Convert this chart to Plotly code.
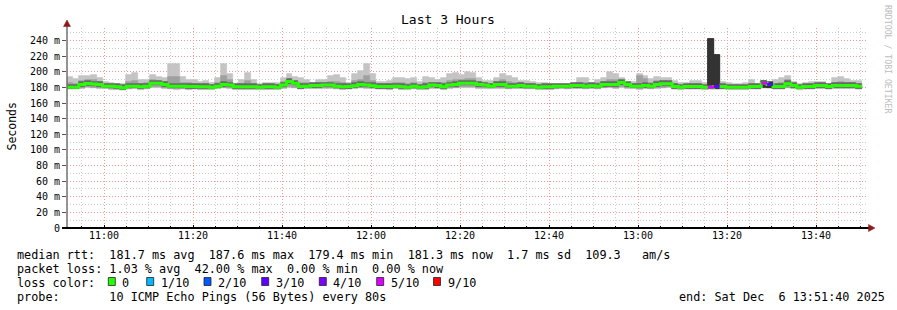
import plotly.graph_objects as go
from datetime import datetime, timedelta

# ---------------- data ----------------
START = datetime(2025, 12, 6, 10, 51, 40)
END = datetime(2025, 12, 6, 13, 51, 40)
STEP_S = 80

median_ms = [
    180.3, 180.3, 183.7, 185.0, 184.2, 183.7, 181.6, 181.6, 180.7, 179.4,
    181.6, 181.6, 180.7, 181.6, 185.4, 185.4, 183.7, 181.6, 181.6, 181.6,
    181.2, 181.2, 180.7, 180.7, 180.3, 181.6, 183.7, 182.9, 180.7, 180.7,
    180.7, 180.7, 180.3, 180.7, 180.7, 180.3, 182.9, 187.6, 185.4, 181.2,
    181.6, 182.4, 182.4, 182.9, 182.9, 181.6, 180.7, 181.2, 182.0, 183.7,
    182.9, 182.0, 181.2, 181.2, 181.2, 181.6, 180.7, 180.3, 181.6, 180.3,
    180.7, 182.9, 182.4, 180.7, 182.9, 183.7, 185.4, 185.4, 185.4, 183.7,
    182.9, 181.6, 183.7, 183.7, 181.6, 181.6, 182.4, 181.6, 181.6, 180.3,
    180.7, 180.7, 181.6, 181.6, 181.6, 182.4, 182.4, 181.6, 182.0, 181.6,
    183.7, 183.7, 183.7, 186.3, 183.7, 181.6, 181.6, 182.4, 181.6, 183.7,
    184.6, 184.6, 181.2, 180.3, 181.2, 181.2, 181.2, 180.3, 180.3, 181.2,
    181.2, 180.3, 180.3, 180.3, 180.3, 181.2, 181.2, 185.5, 183.8, 181.2,
    181.2, 184.6, 182.5, 180.3, 181.2, 181.2, 182.5, 182.5, 181.2, 182.5,
    182.5, 182.5, 182.5, 181.3,
]

smoke_hi = [
    193.1, 190.2, 194.4, 194.4, 195.7, 191.4, 187.2, 185.9, 183.7, 184.6,
    195.7, 197.8, 189.7, 189.7, 195.3, 193.1, 191.4, 210.2, 210.2, 193.1,
    189.7, 188.9, 187.2, 188.0, 185.9, 191.4, 209.3, 197.4, 183.7, 189.7,
    198.7, 189.7, 183.7, 185.9, 185.9, 185.9, 192.3, 197.4, 193.1, 192.3,
    188.9, 185.4, 189.7, 189.7, 194.0, 195.3, 191.4, 185.9, 197.4, 200.8,
    210.2, 196.5, 187.2, 187.2, 188.0, 191.4, 191.4, 190.2, 191.4, 187.2,
    193.1, 191.4, 189.7, 192.3, 196.5, 198.7, 195.7, 199.1, 198.7, 191.4,
    188.0, 188.0, 191.4, 196.5, 194.4, 191.4, 188.0, 188.0, 187.2, 185.9,
    185.9, 184.6, 183.7, 183.7, 183.7, 185.9, 191.4, 191.4, 185.9, 188.9,
    192.3, 199.9, 197.4, 191.4, 187.2, 187.2, 196.5, 194.4, 190.2, 193.1,
    192.3, 192.2, 188.8, 185.5, 185.5, 188.8, 188.8, 185.5, 242.2, 221.7,
    186.6, 185.5, 184.6, 184.6, 185.5, 189.6, 184.6, 186.6, 185.5, 189.6,
    192.2, 194.8, 186.6, 184.6, 185.5, 186.6, 186.6, 186.6, 184.6, 192.2,
    193.9, 190.9, 187.9, 188.8,
]

smoke_mid = [
    185, 184, 188, 189, 189, 187, 184, 183, 182, 182,
    187, 188, 184, 185, 189, 188, 187, 193, 193, 186,
    185, 184, 183, 184, 183, 186, 194, 189, 182, 184,
    188, 184, 182, 183, 183, 183, 187, 191, 188, 186,
    185, 184, 185, 186, 187, 187, 185, 183, 188, 190,
    194, 188, 184, 184, 184, 186, 185, 184, 186, 183,
    186, 186, 185, 185, 188, 190, 190, 191, 191, 187,
    185, 184, 187, 189, 187, 186, 185, 184, 184, 183,
    183, 182, 183, 183, 183, 184, 186, 186, 184, 185,
    187, 190, 189, 188, 185, 184, 194, 191, 185, 188,
    188, 188, 184, 182, 183, 184, 184, 182, 242.2, 221.7,
    183, 182, 182, 182, 182, 184, 183, 186, 185, 184,
    185, 189, 184, 182, 183, 183, 184, 184, 183, 186,
    187, 186, 185, 184,
]

smoke_lo = [
    177.5, 177.8, 178.5, 179.0, 178.8, 178.2, 177.6, 177.2, 177.0, 176.8,
    177.4, 177.6, 176.9, 177.5, 179.2, 179.0, 178.4, 177.3, 177.0, 177.5,
    177.2, 177.4, 177.0, 176.8, 176.9, 177.6, 178.6, 178.0, 177.0, 177.2,
    177.1, 176.9, 176.6, 177.2, 177.0, 176.8, 178.0, 179.5, 178.8, 177.4,
    177.6, 178.0, 177.8, 178.2, 178.0, 177.5, 177.0, 177.4, 177.8, 178.6,
    178.2, 177.9, 177.3, 177.5, 177.2, 177.6, 177.0, 176.8, 177.5, 176.9,
    177.2, 178.3, 178.0, 177.0, 178.2, 178.6, 179.3, 179.2, 179.0, 178.5,
    178.0, 177.6, 178.4, 178.5, 177.5, 177.6, 177.9, 177.4, 177.3, 176.8,
    177.0, 177.1, 177.5, 177.6, 177.4, 178.0, 177.9, 177.5, 177.8, 177.4,
    178.6, 178.9, 178.4, 179.6, 178.5, 177.6, 177.0, 177.8, 177.4, 178.4,
    178.8, 178.9, 177.4, 176.9, 177.5, 177.3, 177.5, 177.0, 177.8, 178.2,
    177.4, 177.0, 177.0, 176.9, 177.1, 177.6, 177.4, 179.0, 178.6, 177.5,
    177.3, 178.8, 178.0, 177.0, 177.4, 177.5, 178.0, 177.8, 177.4, 178.0,
    178.1, 177.9, 178.0, 177.5,
]

loss_of_10 = [0] * 134
loss_of_10[108] = 5
loss_of_10[109] = 3
loss_of_10[117] = 5
loss_of_10[118] = 3

y_tick_vals = [0, 20, 40, 60, 80, 100, 120, 140, 160, 180, 200, 220, 240]
y_tick_text = ["0", "20 m", "40 m", "60 m", "80 m", "100 m", "120 m", "140 m",
               "160 m", "180 m", "200 m", "220 m", "240 m"]

legend_labels = ["0", "1/10", "2/10", "3/10", "4/10", "5/10", "9/10"]
legend_keys = [0, 1, 2, 3, 4, 5, 9]
LOSS_COLORS = {0: "#26ff00", 1: "#00b8ff", 2: "#0059ff", 3: "#5e00ff",
               4: "#7e00ff", 5: "#dd00ff", 9: "#ff0000"}

title_text = "Last 3 Hours"
ylabel_text = "Seconds"
line1 = "median rtt:  181.7 ms avg  187.6 ms max  179.4 ms min  181.3 ms now  1.7 ms sd  109.3   am/s"
line2 = "packet loss: 1.03 % avg  42.00 % max  0.00 % min  0.00 % now"
line3 = "loss color:"
line4 = "probe:       10 ICMP Echo Pings (56 Bytes) every 80s"
end_text = "end: Sat Dec  6 13:51:40 2025"
watermark = "RRDTOOL / TOBI OETIKER"

# ---------------- layout geometry ----------------
W, H = 897, 310
L, R, T, B = 67, 29, 28, 82
PW = W - L - R
PH = H - T - B
BOTTOM = H - B
MONO = "DejaVu Sans Mono"


def px(x):
    return (x - L) / PW


def py(y):
    return (BOTTOM - y) / PH


def nb(s):
    return s.replace(" ", "\u00a0")


n = len(median_ms)
times = [START + timedelta(seconds=STEP_S * i) for i in range(n)]
t_end = times[-1] + timedelta(seconds=STEP_S)
bw = STEP_S * 1000

light_col = ["#333333" if l > 0 else "#c4c4c4" for l in loss_of_10]
mid_col = ["#333333" if l > 0 else "#a0a0a0" for l in loss_of_10]
dark_col = ["#333333" if l > 0 else "#6a6a6a" for l in loss_of_10]

fig = go.Figure()

fig.add_trace(go.Bar(x=times, base=smoke_lo,
                     y=[h - l for h, l in zip(smoke_hi, smoke_lo)],
                     width=bw, offset=0,
                     marker=dict(color=light_col, line=dict(width=0.7, color=light_col)),
                     hoverinfo="skip"))
mid_base = [l + 1.0 for l in smoke_lo]
fig.add_trace(go.Bar(x=times, base=mid_base,
                     y=[m - b for m, b in zip(smoke_mid, mid_base)],
                     width=bw, offset=0,
                     marker=dict(color=mid_col, line=dict(width=0.7, color=mid_col)),
                     hoverinfo="skip"))
dk_base = [m - 2.8 for m in median_ms]
fig.add_trace(go.Bar(x=times, base=dk_base, y=[6.0] * n,
                     width=bw, offset=0,
                     marker=dict(color=dark_col, line=dict(width=0.7, color=dark_col)),
                     hoverinfo="skip"))

fig.add_trace(go.Scatter(x=times + [t_end], y=median_ms + [median_ms[-1]],
                         mode="lines",
                         line=dict(color=LOSS_COLORS[0], width=3, shape="hv"),
                         hoverinfo="skip"))
for i, l in enumerate(loss_of_10):
    if l > 0:
        fig.add_trace(go.Scatter(x=[times[i], times[i] + timedelta(seconds=STEP_S)],
                                 y=[median_ms[i], median_ms[i]], mode="lines",
                                 line=dict(color=LOSS_COLORS[l], width=3),
                                 hoverinfo="skip"))

grid_major = "#f29a9a"
grid_minor = "#cdcdcd"
dash = "1px,2px"

fig.update_layout(
    width=W, height=H,
    margin=dict(l=L, r=R, t=T, b=B, pad=0),
    paper_bgcolor="white", plot_bgcolor="white",
    showlegend=False, barmode="overlay", bargap=0,
    font=dict(family=MONO, size=10, color="#000"),
    xaxis=dict(
        type="date", range=[START, END],
        tickformat="%H:%M", tick0="2025-12-06 11:00:00", dtick=20 * 60 * 1000,
        showgrid=True, gridcolor=grid_major, griddash=dash, gridwidth=1,
        ticks="inside", ticklen=3, tickcolor="#000", tickwidth=1,
        tickfont=dict(family=MONO, size=10, color="#000"),
        showline=False, zeroline=False, fixedrange=True,
        minor=dict(dtick=5 * 60 * 1000, tick0="2025-12-06 11:00:00",
                   showgrid=True, gridcolor=grid_minor, griddash=dash,
                   ticks="inside", ticklen=2, tickcolor="#000"),
    ),
    yaxis=dict(
        range=[0, 256], tickmode="array", tickvals=y_tick_vals, ticktext=y_tick_text,
        showgrid=True, gridcolor=grid_major, griddash=dash, gridwidth=1,
        ticks="outside", ticklen=4, tickcolor="#555", tickwidth=1,
        tickfont=dict(family=MONO, size=10, color="#000"),
        showline=False, zeroline=False, fixedrange=True,
        minor=dict(dtick=10, showgrid=True, gridcolor=grid_minor, griddash=dash),
    ),
)

shapes = []
shapes.append(dict(type="line", xref="paper", yref="paper",
                   x0=px(67), x1=px(67), y0=py(228), y1=py(24),
                   line=dict(color="#707070", width=1.5)))
shapes.append(dict(type="line", xref="paper", yref="paper",
                   x0=px(62), x1=px(870), y0=py(228), y1=py(228),
                   line=dict(color="#000000", width=2)))
shapes.append(dict(type="path", xref="paper", yref="paper",
                   path=f"M {px(63.5)},{py(26.5)} L {px(70.5)},{py(26.5)} L {px(67)},{py(20)} Z",
                   fillcolor="#8b1a1a", line=dict(color="#8b1a1a", width=0.5)))
shapes.append(dict(type="path", xref="paper", yref="paper",
                   path=f"M {px(868.5)},{py(224.5)} L {px(868.5)},{py(231.5)} L {px(875)},{py(228)} Z",
                   fillcolor="#8b1a1a", line=dict(color="#8b1a1a", width=0.5)))

annotations = []


def add_text(txt, x, y, size=11.8, anchor="left", color="#000", angle=0, yanchor="middle"):
    annotations.append(dict(text=nb(txt), x=px(x), y=py(y), xref="paper", yref="paper",
                            xanchor=anchor, yanchor=yanchor, showarrow=False,
                            textangle=angle, borderpad=0,
                            font=dict(family=MONO, size=size, color=color)))


add_text(title_text, 448, 19, size=13, anchor="center")
add_text(ylabel_text, 11, 126.5, size=11.5, anchor="center", angle=-90)
add_text(watermark, 888, 59, size=8.2, anchor="center", color="#bdbdbd", angle=90)

LEG_X = 16
add_text(line1, LEG_X, 254.5)
add_text(line2, LEG_X, 268.5)
add_text(line3, LEG_X, 282.5)
add_text(line4, LEG_X, 296.5)
add_text(end_text, 678, 296.5)

box_x = [108.3, 146.7, 204.0, 261.7, 319.3, 376.7, 433.5]
for bx, lab, key in zip(box_x, legend_labels, legend_keys):
    shapes.append(dict(type="rect", xref="paper", yref="paper",
                       x0=px(bx), x1=px(bx + 7), y0=py(285.5), y1=py(277.5),
                       fillcolor=LOSS_COLORS[key], line=dict(color="#222", width=0.8)))
    add_text(lab, bx + 13.0, 282.5)

fig.update_layout(shapes=shapes, annotations=annotations)

fig.write_html("out.html")
